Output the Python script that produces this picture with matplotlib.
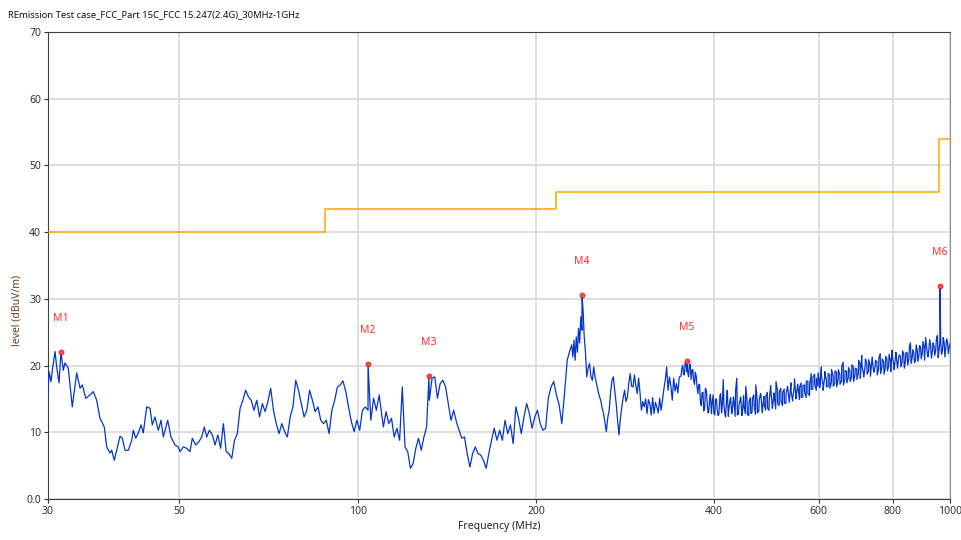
import numpy as np
import matplotlib.pyplot as plt

plt.rcParams['font.family'] = ['Noto Sans', 'DejaVu Sans']

# limit line steps (MHz, dBuV/m)
limit_freq = [30, 88, 216, 960, 1000]
limit_level = [40, 43.5, 46, 54, 54]

# marker peaks
marker_names = ['M1', 'M2', 'M3', 'M4', 'M5', 'M6']
marker_freq = [31.55, 104.1, 131.9, 239.2, 359.7, 962.0]
marker_level = [22.0, 20.3, 18.4, 30.6, 20.7, 32.0]

# measured trace, 30-55 MHz point by point
trace_a_freq = [30.0, 30.12, 30.35, 30.51, 30.83, 31.03, 31.31, 31.56, 31.84, 32.05,
                32.46, 32.97, 33.54, 33.98, 34.28, 34.74, 35.32, 35.78, 36.25, 36.72,
                37.34, 37.69, 38.18, 38.43, 38.82, 39.18, 39.69, 40.05, 40.47, 40.99,
                41.54, 41.80, 42.19, 42.62, 43.07, 43.45, 44.03, 44.60, 45.00, 45.47,
                46.06, 46.55, 46.97, 47.78, 48.39, 49.15, 49.79, 50.12, 50.77, 51.44,
                52.10, 52.57, 53.27, 53.96, 54.53, 55.08]
trace_a_level = [15.6, 19.1, 17.6, 19.3, 22.1, 19.8, 17.4, 21.9, 19.3, 20.4,
                 19.6, 13.8, 18.9, 16.6, 17.1, 15.1, 15.6, 16.1, 14.8, 12.1,
                 10.8, 7.8, 6.9, 7.3, 5.8, 7.3, 9.4, 9.1, 7.3, 7.3,
                 8.8, 10.3, 9.1, 9.9, 11.1, 9.9, 13.8, 13.6, 11.1, 12.3,
                 10.3, 11.8, 9.3, 11.8, 9.3, 8.1, 7.8, 7.1, 7.8, 7.6,
                 7.1, 9.1, 8.1, 8.6, 9.3, 10.8]

# rest of the sweep in pieces: start/stop MHz and levels spread evenly on the log axis
trace_b_range = (55.6, 108.7)
trace_b_level = [9.3, 10.3, 9.6, 8.1, 9.6, 7.6, 11.3, 7.1, 6.8, 6.1,
                 8.8, 9.8, 13.6, 14.8, 16.3, 15.3, 14.8, 13.3, 14.8, 12.3,
                 14.3, 13.1, 14.6, 16.6, 13.3, 11.3, 9.8, 11.3, 10.1, 9.3,
                 12.3, 13.8, 17.8, 16.3, 14.3, 12.3, 13.3, 16.3, 14.8, 13.1,
                 13.8, 11.8, 11.3, 11.8, 9.8, 13.3, 14.8, 16.8, 17.1, 17.7,
                 16.1, 13.8, 11.6, 10.1, 11.8, 10.3, 13.3, 13.8, 13.3, 11.8,
                 15.1, 13.3, 15.6]

trace_c_range = (110.5, 228.2)
trace_c_level = [10.8, 13.1, 11.3, 12.1, 9.3, 10.6, 8.8, 16.8, 7.8, 7.1,
                 4.6, 5.3, 7.6, 9.1, 7.3, 9.3, 10.8, 14.8, 18.1, 18.3,
                 15.1, 17.3, 17.8, 16.8, 14.3, 11.8, 13.3, 11.6, 10.3, 9.1,
                 9.3, 6.8, 4.8, 6.8, 7.8, 6.8, 6.6, 5.8, 4.6, 6.8,
                 8.8, 10.6, 8.8, 10.3, 8.8, 11.8, 9.8, 11.1, 8.3, 13.8,
                 12.1, 9.8, 12.3, 14.3, 12.8, 10.6, 12.3, 13.3, 11.3, 10.3,
                 10.6, 15.1, 16.8, 17.6, 15.6, 14.1, 11.3, 15.8, 20.8, 22.3]

trace_d1_range = (229.8, 242.3)
trace_d1_level = [23.1, 21.3, 23.8, 20.8, 24.3, 22.0, 25.6, 23.4, 27.3, 25.3,
                  28.2, 24.3, 22.3]

trace_d2_range = (243.6, 349.1)
trace_d2_level = [18.3, 19.6, 20.3, 18.4, 17.8, 19.8, 18.2, 17.3, 16.3, 15.4,
                  14.8, 13.6, 12.8, 11.4, 10.1, 12.2, 13.3, 15.9, 17.8, 18.3,
                  16.2, 14.3, 11.8, 9.6, 12.1, 13.8, 15.2, 16.3, 14.6, 15.3,
                  17.4, 18.8, 16.9, 16.8, 18.6, 17.0, 15.8, 18.1, 15.9, 13.3,
                  14.6, 13.8, 15.0, 12.8, 14.9, 14.3, 12.6, 15.2, 12.8, 14.5,
                  13.8, 12.9, 15.1, 13.3, 14.8, 16.5, 17.8, 19.8, 16.3, 18.3,
                  16.9, 14.8, 18.1, 16.2, 17.3, 15.9, 18.3]

# 350 MHz - 1 GHz is sampled twice as dense: two interleaved sweeps
trace_e_range = (351.4, 1000.0)
trace_e_level = [18.4, 20.0, 18.6, 20.3, 19.0, 20.1, 17.9, 19.4, 17.2, 18.4,
                 15.8, 17.2, 14.0, 16.0, 13.5, 16.3, 12.9, 15.2, 12.8, 15.6,
                 12.6, 15.0, 12.5, 15.4, 12.9, 17.9, 12.6, 15.1, 12.4, 14.8,
                 12.8, 15.3, 12.4, 18.1, 12.7, 15.0, 12.5, 15.5, 12.8, 14.9,
                 12.5, 15.2, 13.0, 15.6, 12.7, 15.0, 13.2, 15.8, 12.9, 15.4,
                 13.3, 16.0, 13.3, 17.0, 13.6, 15.9, 13.5, 16.3, 14.0, 16.6,
                 14.0, 16.5, 14.3, 16.9, 14.5, 17.4, 14.7, 16.9, 15.0, 17.2,
                 14.9, 17.4, 15.3, 17.1, 15.2, 17.7, 15.5, 18.8, 16.5, 18.7,
                 16.3, 18.9, 16.7, 18.5, 16.3, 19.1, 16.8, 18.8, 16.6, 19.4,
                 16.9, 19.2, 16.8, 19.4, 17.2, 19.9, 17.1, 19.3, 17.4, 19.7,
                 17.6, 20.1, 17.6, 19.6, 17.9, 20.8, 18.1, 20.0, 18.3, 21.0,
                 18.7, 20.9, 18.4, 21.3, 19.0, 20.8, 18.6, 21.2, 18.8, 21.0,
                 18.7, 21.4, 19.2, 21.7, 19.1, 21.2, 19.4, 22.0, 19.6, 21.6,
                 19.8, 22.2, 19.6, 22.0, 20.1, 22.8, 20.3, 22.4, 20.4, 23.1,
                 20.6, 23.0, 21.0, 23.6, 20.8, 23.2, 21.3, 23.9, 21.1, 23.4,
                 21.5, 24.1, 21.2, 23.7, 21.7, 24.2, 21.3, 24.0, 21.8, 23.3]

trace_e2_range = (352.6, 996.7)
trace_e2_level = [19.6, 18.7, 20.5, 19.1, 18.3, 20.2, 19.3, 17.8, 19.0, 16.9,
                  17.1, 14.6, 15.9, 13.2, 16.6, 14.5, 13.1, 15.7, 14.4, 12.9,
                  14.9, 13.3, 12.7, 15.8, 13.8, 14.2, 12.3, 16.3, 13.5, 15.2,
                  13.2, 14.7, 16.4, 12.6, 14.1, 15.3, 12.9, 13.8, 16.9, 12.7,
                  14.6, 12.8, 15.1, 14.0, 17.1, 12.9, 14.8, 15.7, 13.4, 14.2,
                  15.4, 13.6, 14.9, 16.2, 13.9, 15.3, 17.6, 14.3, 16.1, 14.6,
                  16.0, 14.4, 15.8, 16.7, 14.8, 16.1, 15.2, 18.0, 15.4, 16.8,
                  16.7, 15.2, 17.0, 16.1, 17.6, 15.8, 17.1, 16.4, 18.3, 17.2,
                  18.1, 16.9, 17.5, 19.8, 17.0, 18.4, 17.7, 16.9, 18.6, 17.5,
                  18.4, 17.3, 19.0, 17.9, 18.6, 17.7, 20.5, 18.0, 19.1, 18.2,
                  19.2, 18.3, 19.8, 18.6, 19.5, 18.9, 20.2, 21.5, 18.8, 19.9,
                  20.4, 19.2, 20.0, 20.7, 19.3, 19.9, 20.6, 19.4, 21.8, 19.8,
                  20.6, 19.7, 21.0, 19.9, 20.8, 22.3, 20.2, 21.1, 20.4, 21.3,
                  21.4, 20.5, 21.8, 20.7, 21.9, 20.9, 23.4, 21.2, 21.9, 20.8,
                  22.3, 21.5, 22.8, 21.8, 22.9, 24.2, 21.9, 22.6, 23.0, 22.1,
                  22.9, 22.3, 24.5, 22.4, 23.4, 22.2, 23.5, 22.6, 23.6, 22.7]

x_ticks = [30, 50, 100, 200, 400, 600, 800, 1000]
y_ticks = [0, 10, 20, 30, 40, 50, 60, 70]
y_tick_labels = ['0.0', '10', '20', '30', '40', '50', '60', '70']

pieces = [(trace_b_range, trace_b_level), (trace_c_range, trace_c_level),
          (trace_d1_range, trace_d1_level), (trace_d2_range, trace_d2_level),
          (trace_e_range, trace_e_level), (trace_e2_range, trace_e2_level)]
freq = [np.array(trace_a_freq)]
level = [np.array(trace_a_level)]
for (f0, f1), lv in pieces:
    freq.append(np.geomspace(f0, f1, len(lv)))
    level.append(np.array(lv))
freq.append(np.array(marker_freq))
level.append(np.array(marker_level))
freq = np.concatenate(freq)
level = np.concatenate(level)
order = np.argsort(freq)
freq, level = freq[order], level[order]

fig = plt.figure(figsize=(9.61, 5.40), dpi=100)
ax = fig.add_axes([48 / 961, 1 - 499 / 540, 902 / 961, 467 / 540])

ax.step(limit_freq, limit_level, where='post', color='#ffa500', lw=1.1, zorder=3)
ax.plot(freq, level, color='#0536c8', lw=0.9, zorder=4)
ax.plot(marker_freq, marker_level, 'o', ms=3.5, mfc='#ff4a4a', mec='#d02020', mew=0.6, zorder=5)
for name, f, lv in zip(marker_names, marker_freq, marker_level):
    ax.text(f, lv + 5, name, color='#ff3030', fontsize=7.5, ha='center', va='center', zorder=6)

ax.set_xscale('log')
ax.set_xlim(30, 1000)
ax.set_ylim(0, 70)
ax.set_xticks(x_ticks)
ax.set_xticklabels([str(t) for t in x_ticks])
ax.xaxis.set_minor_locator(plt.NullLocator())
ax.set_yticks(y_ticks)
ax.set_yticklabels(y_tick_labels)
ax.grid(True, color='#dcdcdc', lw=1.3)
ax.set_axisbelow(True)
ax.tick_params(labelsize=7.5, length=3, width=0.8, colors='#333333', pad=2)
for side in ['left', 'bottom', 'top']:
    ax.spines[side].set_color('#404040')
ax.spines['right'].set_color('#909090')

ax.set_xlabel('Frequency (MHz)', fontsize=7.5, color='#222222', labelpad=3)
fig.text(17 / 961, 1 - 310 / 540, 'level (dBuV/m)', rotation=90, fontsize=7.5,
         color='#6b3e1e', ha='center', va='center')
fig.text(8 / 961, 1 - 15 / 540, 'REmission Test case_FCC_Part 15C_FCC 15.247(2.4G)_30MHz-1GHz',
         fontsize=6.8, color='#111111', ha='left', va='center')

fig.savefig('out.png', dpi=100)
